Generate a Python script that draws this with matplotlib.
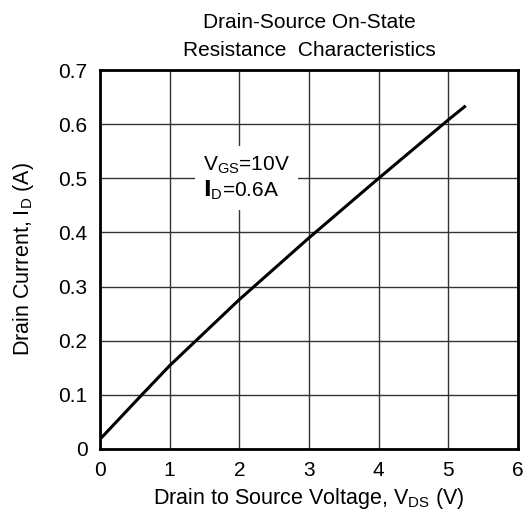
import numpy as np
import matplotlib.pyplot as plt

plt.rcParams['font.family'] = ['Liberation Sans', 'DejaVu Sans']
plt.rcParams['mathtext.default'] = 'regular'

# curve
vds = [0.0, 0.6, 1.0, 2.0, 3.0, 4.0, 5.0, 5.25]
i_d = [0.018, 0.100, 0.154, 0.276, 0.390, 0.500, 0.608, 0.634]

xticks = [0, 1, 2, 3, 4, 5, 6]
yticks = [0, 0.1, 0.2, 0.3, 0.4, 0.5, 0.6, 0.7]
yticklabels = ['0', '0.1', '0.2', '0.3', '0.4', '0.5', '0.6', '0.7']

fig = plt.figure(figsize=(5.30, 5.18), dpi=100)
ax = fig.add_axes([100 / 530, 1 - 449 / 518, 418 / 530, 379 / 518])

ax.plot(vds, i_d, color='black', lw=2.2, solid_capstyle='butt',
        solid_joinstyle='round', zorder=3)

ax.set_xlim(0, 6)
ax.set_ylim(0, 0.7)
ax.set_xticks(xticks)
ax.set_yticks(yticks)
ax.set_yticklabels(yticklabels)
ax.tick_params(length=0, labelsize=15, pad=9)
ax.grid(True, color='#333333', lw=1.0)
for s in ax.spines.values():
    s.set_linewidth(2.0)

ax.text(1.48, 0.5, 'V$_{GS}$=10V\n$\\mathbf{I}$$_{D}$=0.6A', fontsize=15,
        va='center', ha='left', linespacing=1.15, zorder=4,
        bbox=dict(facecolor='white', edgecolor='none', pad=6))

ax.set_xlabel('Drain to Source Voltage, V$_{DS}$ (V)', fontsize=15.5, labelpad=4)
ax.set_ylabel('Drain Current, I$_{D}$ (A)', fontsize=15.5, labelpad=16)
ax.set_title('Drain-Source On-State\nResistance  Characteristics', fontsize=15,
             linespacing=1.6, pad=10)

fig.savefig('out.png', dpi=100)
